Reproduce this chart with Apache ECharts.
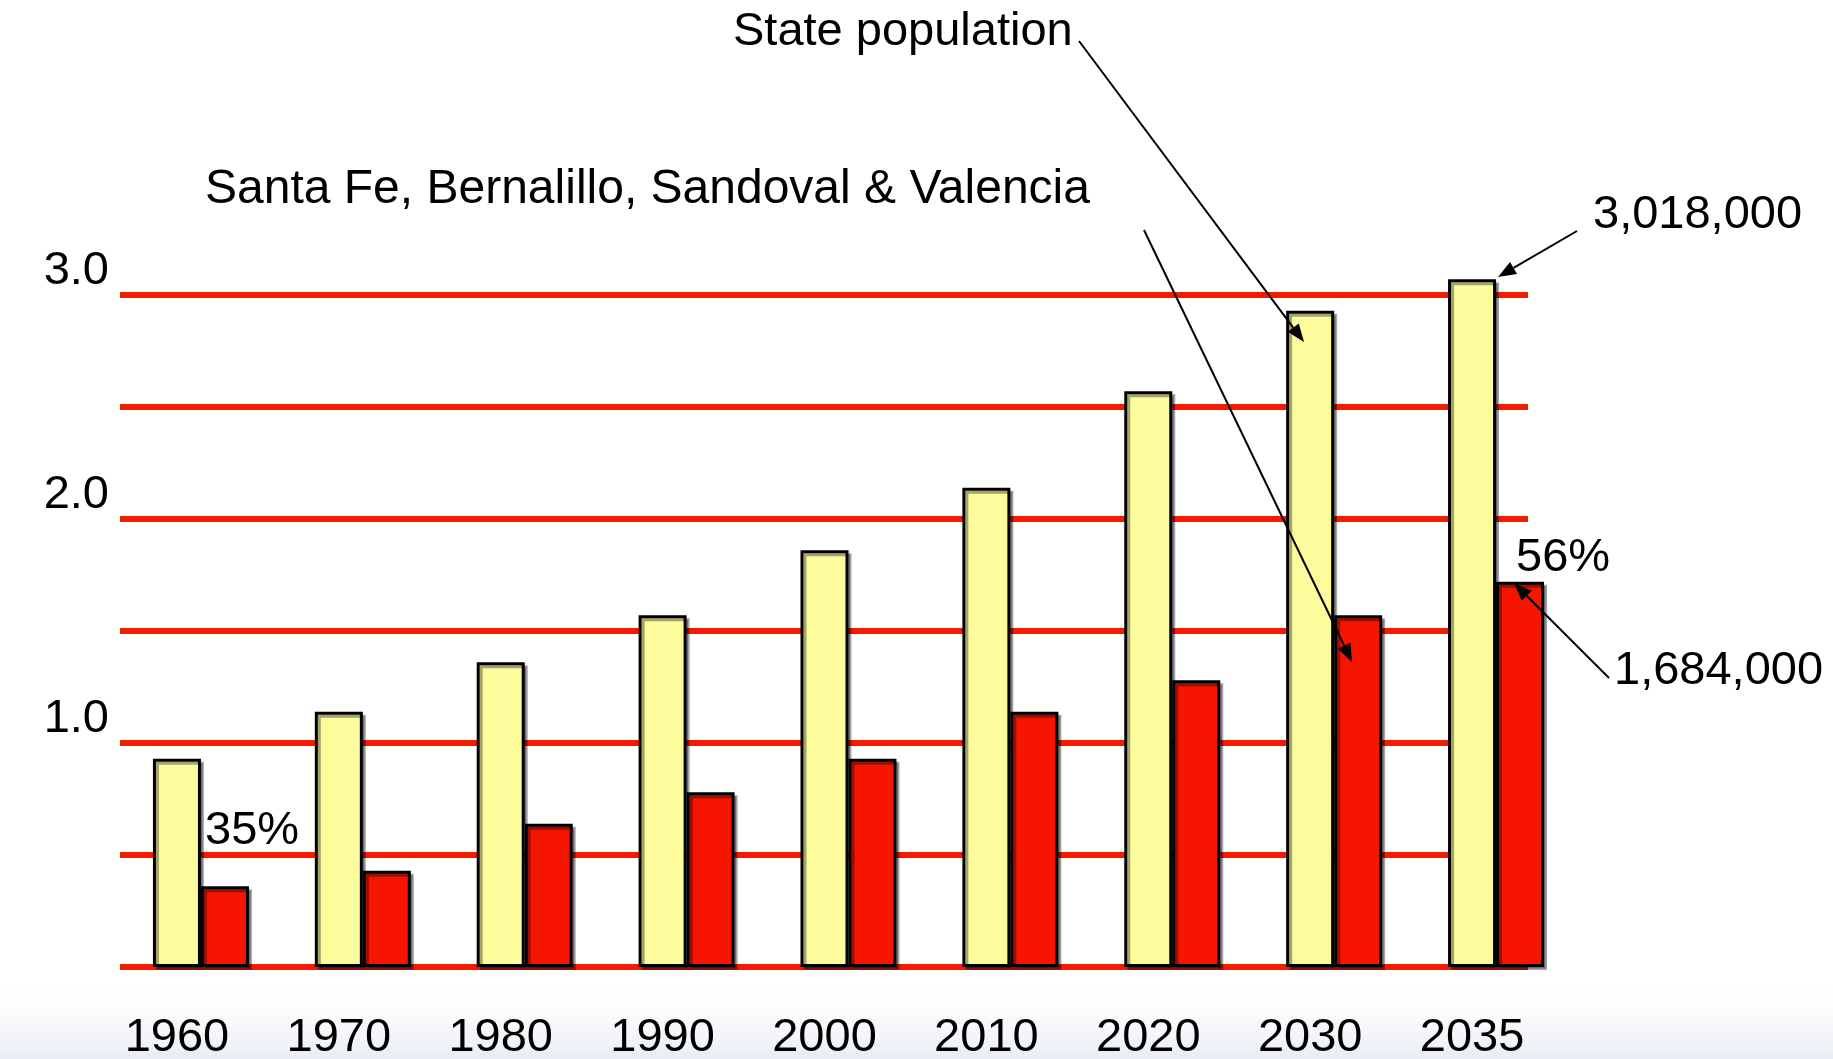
<!DOCTYPE html>
<html>
<head>
<meta charset="utf-8">
<script src="https://cdn.jsdelivr.net/npm/echarts@6/dist/echarts.min.js"></script>
<style>
    html, body { margin: 0; padding: 0; background: #fff; }
    #popChart { width: 1833px; height: 1059px; }
</style>
</head>
<body>
<div id="popChart"></div>
<script>
// population in millions
const years = ['1960', '1970', '1980', '1990', '2000', '2010', '2020', '2030', '2035']
const statePop = [0.93, 1.14, 1.36, 1.57, 1.86, 2.14, 2.57, 2.93, 3.07]
const metroPop = [0.36, 0.43, 0.64, 0.78, 0.93, 1.14, 1.28, 1.57, 1.72]
const yTickLabels = ['1.0', '2.0', '3.0']

const FONT = "'Liberation Sans', Arial, sans-serif"

function arrow(x1, y1, x2, y2) {
    const a = Math.atan2(y2 - y1, x2 - x1)
    const len = 18, w = 7
    const bx = x2 - len * Math.cos(a), by = y2 - len * Math.sin(a)
    return [
        { type: 'line', shape: { x1: x1, y1: y1, x2: bx, y2: by }, style: { stroke: '#000', lineWidth: 2 }, z: 10 },
        {
            type: 'polygon', z: 10,
            shape: { points: [[x2, y2], [bx - w * Math.sin(a), by + w * Math.cos(a)], [bx + w * Math.sin(a), by - w * Math.cos(a)]] },
            style: { fill: '#000' }
        }
    ]
}

function note(text, x, y, size) {
    return { type: 'text', x: x, y: y, z: 10, style: { text: text, font: (size || 47) + 'px ' + FONT, fill: '#000', textAlign: 'left', textVerticalAlign: 'middle' } }
}

const barStyle = {
    borderColor: '#000', borderWidth: 3,
    shadowColor: 'rgba(0,0,0,0.35)', shadowOffsetX: 3, shadowOffsetY: 3, shadowBlur: 0
}

const chart = echarts.init(document.getElementById('popChart'))
chart.setOption({
    animation: false,
    backgroundColor: '#fff',
    textStyle: { fontFamily: FONT },
    grid: [
        { left: 120, top: 295, width: 1408, height: 672, outerBoundsMode: 'none' },
        // same scale as grid 0, extended upward so the tallest bar is not clipped
        { left: 120, top: 183, width: 1457, height: 784, outerBoundsMode: 'none' }
    ],
    xAxis: [
        { gridIndex: 0, type: 'category', data: years, show: false },
        {
            gridIndex: 1, type: 'category', data: years,
            axisLine: { show: false }, axisTick: { show: false },
            axisLabel: { color: '#000', fontSize: 47, margin: 48, padding: [0, 48, 0, 0] }
        }
    ],
    yAxis: [
        {
            gridIndex: 0, type: 'value', min: 0, max: 3, interval: 0.5,
            axisLine: { show: false }, axisTick: { show: false },
            splitLine: { show: true, lineStyle: { color: '#f51a00', width: 6 } },
            axisLabel: {
                color: '#000', fontSize: 47, margin: 11, verticalAlign: 'bottom',
                formatter: v => yTickLabels.indexOf(v.toFixed(1)) >= 0 ? v.toFixed(1) : ''
            }
        },
        { gridIndex: 1, type: 'value', min: 0, max: 3.5, show: false, splitLine: { show: false } }
    ],
    series: [
        {
            name: 'State population', type: 'bar', xAxisIndex: 1, yAxisIndex: 1,
            data: statePop, barWidth: 48, barGap: '0%',
            itemStyle: Object.assign({ color: '#fdfc9c' }, barStyle)
        },
        {
            name: 'Santa Fe, Bernalillo, Sandoval & Valencia', type: 'bar', xAxisIndex: 1, yAxisIndex: 1,
            data: metroPop, barWidth: 48, barGap: '0%',
            itemStyle: Object.assign({ color: '#f51500' }, barStyle)
        }
    ],
    graphic: [
        {
            type: 'rect', z: -10, silent: true,
            shape: { x: 0, y: 975, width: 1833, height: 84 },
            style: {
                fill: new echarts.graphic.LinearGradient(0, 0, 0, 1, [
                    { offset: 0, color: 'rgba(255,255,255,0)' },
                    { offset: 1, color: 'rgba(190,202,222,0.35)' }
                ])
            }
        },
        note('State population', 733, 32),
        note('Santa Fe, Bernalillo, Sandoval & Valencia', 205, 190, 48),
        note('3,018,000', 1593, 215),
        note('56%', 1516, 558),
        note('1,684,000', 1614, 671),
        note('35%', 205, 831),
        ...arrow(1079, 41, 1304, 342),
        ...arrow(1144, 230, 1352, 662),
        ...arrow(1577, 231, 1498, 277),
        ...arrow(1609, 678, 1514, 583)
    ]
})
</script>
</body>
</html>
